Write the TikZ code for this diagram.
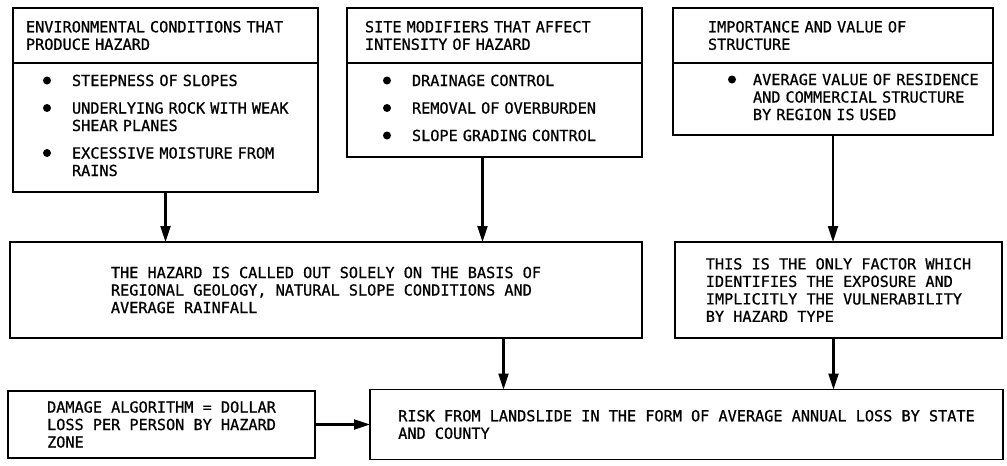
\documentclass[tikz,border=0pt]{standalone}
\usepackage{fontspec}
\usetikzlibrary{arrows.meta, positioning}
\newfontfamily\plotfam{DejaVu Sans Mono}[FakeBold=0.8]
\newcommand{\plotfont}{\plotfam\fontsize{15.2}{17.5}\selectfont}
\newcommand{\bul}{\tikz[baseline=-5.5pt]\fill (0,0) circle (4pt);}
\tikzset{
    box/.style={draw, line width=1.8pt, outer sep=0pt, fill=white, align=left, font=\plotfont},
    headbox/.style={box, anchor=north west, minimum height=55pt},
    bodybox/.style={box, inner xsep=0pt},
    arrow/.style={-{Triangle[length=16pt,width=10pt]}, line width=2.2pt}
}

\begin{document}
\begin{tikzpicture}[x=1pt, y=-1pt]
        \useasboundingbox (0,0) rectangle (1007,466);
        % top row: what goes into the hazard and the exposure
        \node [headbox, text width=279pt, inner xsep=13pt] (envhead) at (13,8) {ENVIRONMENTAL CONDITIONS THAT\\PRODUCE HAZARD};
        \node [bodybox, below=0pt of envhead, text width=305pt, minimum height=129pt] (envbody) {%
            \begin{tabular}{@{\hspace{30pt}}l@{\hspace{21pt}}l@{}}
                \bul & STEEPNESS OF SLOPES\\[10pt]
                \bul & UNDERLYING ROCK WITH WEAK\\
                     & SHEAR PLANES\\[10pt]
                \bul & EXCESSIVE MOISTURE FROM\\
                     & RAINS
            \end{tabular}};
        \node [headbox, text width=259pt, inner xsep=18pt] (sitehead) at (347,8) {SITE MODIFIERS THAT AFFECT\\INTENSITY OF HAZARD};
        \node [bodybox, below=0pt of sitehead, text width=295pt, minimum height=94pt] (sitebody) {%
            \begin{tabular}{@{\hspace{36pt}}l@{\hspace{21pt}}l@{}}
                \bul & DRAINAGE CONTROL\\[10pt]
                \bul & REMOVAL OF OVERBURDEN\\[10pt]
                \bul & SLOPE GRADING CONTROL
            \end{tabular}};
        \node [headbox, text width=250pt, inner xsep=35pt] (imphead) at (673,8) {IMPORTANCE AND VALUE OF\\STRUCTURE};
        \node [bodybox, below=0pt of imphead, text width=320pt, minimum height=72pt] (impbody) {%
            \begin{tabular}{@{\hspace{55pt}}l@{\hspace{17pt}}l@{}}
                \bul & AVERAGE VALUE OF RESIDENCE\\
                     & AND COMMERCIAL STRUCTURE\\
                     & BY REGION IS USED
            \end{tabular}};
        % middle row
        \node [box, anchor=north west, minimum width=632pt, minimum height=96pt] (hazard) at (10,242) {THE HAZARD IS CALLED OUT SOLELY ON THE BASIS OF\\REGIONAL GEOLOGY, NATURAL SLOPE CONDITIONS AND\\AVERAGE RAINFALL};
        \node [box, anchor=north west, minimum width=327pt, minimum height=96pt] (exposure) at (675,242) {THIS IS THE ONLY FACTOR WHICH\\IDENTIFIES THE EXPOSURE AND\\IMPLICITLY THE VULNERABILITY\\BY HAZARD TYPE};
        % bottom row
        \node [box, anchor=north west, minimum width=307pt, minimum height=67pt] (damage) at (8,391) {DAMAGE ALGORITHM = DOLLAR\\LOSS PER PERSON BY HAZARD\\ZONE};
        \node [box, right=55pt of damage, minimum width=633pt, minimum height=70pt] (risk) {RISK FROM LANDSLIDE IN THE FORM OF AVERAGE ANNUAL LOSS BY STATE\\AND COUNTY};
        \draw [arrow] (envbody.south) -- (envbody.south |- hazard.north);
        \draw [arrow] ([xshift=-12pt]sitebody.south) -- ([xshift=-12pt]sitebody.south |- hazard.north);
        \draw [arrow] (impbody.south) -- (impbody.south |- exposure.north);
        \draw [arrow] ([xshift=-183pt]risk.north |- hazard.south) -- ([xshift=-183pt]risk.north);
        \draw [arrow] ([xshift=-5pt]exposure.south) -- ([xshift=-5pt]exposure.south |- risk.north);
        \draw [arrow] (damage) -- (risk);
    \end{tikzpicture}
\end{document}
